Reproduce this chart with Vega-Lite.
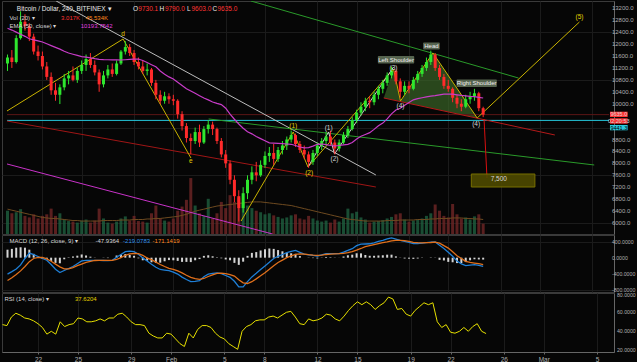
{
"$schema": "https://vega.github.io/schema/vega-lite/v6.json",
"background": "#060606",
"padding": 0,
"spacing": 1,
"bounds": "flush",
"config": {"view": {"stroke": "#3a3a3a", "fill": "#060606"}, "font": "Liberation Sans"},
"resolve": {"scale": {"x": "independent", "y": "independent", "fill": "independent", "stroke": "independent"}},
"datasets": {
"k": [
{"t":"2018-01-19T08:00","o":11350,"h":11650,"l":11100,"c":11550,"v":45,"vm":48,"e":12530,"m":-410,"s":-570,"hs":200,"r":47},
{"t":"2018-01-19T16:00","o":11550,"h":11800,"l":11200,"c":11400,"v":40,"vm":46,"e":12470,"m":-350,"s":-500,"hs":220,"r":46},
{"t":"2018-01-20T00:00","o":11400,"h":12300,"l":11350,"c":12200,"v":42,"vm":44,"e":12400,"m":-285,"s":-420,"hs":250,"r":55},
{"t":"2018-01-20T08:00","o":12200,"h":13100,"l":12150,"c":12750,"v":48,"vm":42,"e":12330,"m":-180,"s":-330,"hs":260,"r":59},
{"t":"2018-01-20T16:00","o":12750,"h":13000,"l":12450,"c":12600,"v":35,"vm":40,"e":12260,"m":-20,"s":-220,"hs":250,"r":57},
{"t":"2018-01-21T00:00","o":12600,"h":12700,"l":12100,"c":12250,"v":32,"vm":38,"e":12180,"m":115,"s":-100,"hs":200,"r":54},
{"t":"2018-01-21T08:00","o":12250,"h":12350,"l":11650,"c":11750,"v":38,"vm":36,"e":12140,"m":75,"s":-20,"hs":95,"r":53},
{"t":"2018-01-21T16:00","o":11750,"h":11950,"l":11450,"c":11600,"v":30,"vm":34,"e":12110,"m":30,"s":10,"hs":20,"r":51},
{"t":"2018-01-22T00:00","o":11600,"h":11750,"l":11150,"c":11250,"v":35,"vm":32,"e":12070,"m":-20,"s":5,"hs":-25,"r":48},
{"t":"2018-01-22T08:00","o":11250,"h":11400,"l":10800,"c":10900,"v":38,"vm":31,"e":12010,"m":-63,"s":-30,"hs":-33,"r":44},
{"t":"2018-01-22T16:00","o":10900,"h":11050,"l":10300,"c":10450,"v":49,"vm":30,"e":11950,"m":-170,"s":-90,"hs":-80,"r":37},
{"t":"2018-01-23T00:00","o":10450,"h":10700,"l":10100,"c":10300,"v":35,"vm":30,"e":11890,"m":-290,"s":-160,"hs":-130,"r":40},
{"t":"2018-01-23T08:00","o":10300,"h":10650,"l":9990,"c":10550,"v":40,"vm":29,"e":11830,"m":-370,"s":-230,"hs":-140,"r":37},
{"t":"2018-01-23T16:00","o":10550,"h":11000,"l":10450,"c":10850,"v":28,"vm":28,"e":11760,"m":-320,"s":-280,"hs":-40,"r":50},
{"t":"2018-01-24T00:00","o":10850,"h":11100,"l":10650,"c":10950,"v":25,"vm":27,"e":11700,"m":-270,"s":-280,"hs":10,"r":45},
{"t":"2018-01-24T08:00","o":10950,"h":11250,"l":10750,"c":10800,"v":24,"vm":26,"e":11660,"m":-220,"s":-250,"hs":30,"r":47},
{"t":"2018-01-24T16:00","o":10800,"h":11200,"l":10700,"c":11100,"v":22,"vm":26,"e":11620,"m":-150,"s":-200,"hs":50,"r":48},
{"t":"2018-01-25T00:00","o":11100,"h":11450,"l":11000,"c":11300,"v":26,"vm":25,"e":11580,"m":-80,"s":-160,"hs":80,"r":54},
{"t":"2018-01-25T08:00","o":11300,"h":11650,"l":11100,"c":11500,"v":28,"vm":25,"e":11560,"m":-65,"s":-120,"hs":55,"r":53},
{"t":"2018-01-25T16:00","o":11500,"h":11700,"l":11200,"c":11300,"v":22,"vm":25,"e":11540,"m":-65,"s":-90,"hs":25,"r":50},
{"t":"2018-01-26T00:00","o":11300,"h":11450,"l":10950,"c":11050,"v":26,"vm":25,"e":11510,"m":-65,"s":-70,"hs":5,"r":50},
{"t":"2018-01-26T08:00","o":11050,"h":11150,"l":10400,"c":10650,"v":49,"vm":25,"e":11490,"m":-65,"s":-65,"hs":0,"r":51},
{"t":"2018-01-26T16:00","o":10650,"h":11100,"l":10550,"c":10950,"v":30,"vm":26,"e":11480,"m":-70,"s":-65,"hs":-5,"r":53},
{"t":"2018-01-27T00:00","o":10950,"h":11300,"l":10850,"c":11150,"v":22,"vm":26,"e":11475,"m":-75,"s":-65,"hs":-10,"r":51},
{"t":"2018-01-27T08:00","o":11150,"h":11350,"l":10900,"c":11000,"v":20,"vm":26,"e":11470,"m":-65,"s":-65,"hs":0,"r":54},
{"t":"2018-01-27T16:00","o":11000,"h":11450,"l":10950,"c":11350,"v":24,"vm":26,"e":11468,"m":10,"s":-45,"hs":55,"r":54},
{"t":"2018-01-28T00:00","o":11350,"h":11800,"l":11300,"c":11750,"v":30,"vm":27,"e":11467,"m":80,"s":0,"hs":80,"r":58},
{"t":"2018-01-28T08:00","o":11750,"h":12100,"l":11650,"c":11900,"v":34,"vm":27,"e":11475,"m":150,"s":60,"hs":90,"r":59},
{"t":"2018-01-28T16:00","o":11900,"h":12000,"l":11600,"c":11700,"v":26,"vm":27,"e":11485,"m":165,"s":95,"hs":70,"r":55},
{"t":"2018-01-29T00:00","o":11700,"h":11800,"l":11300,"c":11400,"v":35,"vm":28,"e":11495,"m":152,"s":105,"hs":47,"r":50},
{"t":"2018-01-29T08:00","o":11400,"h":11550,"l":11150,"c":11250,"v":25,"vm":28,"e":11500,"m":85,"s":100,"hs":-15,"r":47},
{"t":"2018-01-29T16:00","o":11250,"h":11450,"l":11000,"c":11100,"v":24,"vm":28,"e":11450,"m":-5,"s":60,"hs":-65,"r":47},
{"t":"2018-01-30T00:00","o":11100,"h":11350,"l":10950,"c":11150,"v":22,"vm":29,"e":11380,"m":-85,"s":-10,"hs":-75,"r":46},
{"t":"2018-01-30T08:00","o":11150,"h":11200,"l":10600,"c":10700,"v":40,"vm":29,"e":11310,"m":-165,"s":-50,"hs":-115,"r":38},
{"t":"2018-01-30T16:00","o":10700,"h":10800,"l":10150,"c":10300,"v":55,"vm":30,"e":11240,"m":-240,"s":-110,"hs":-130,"r":35},
{"t":"2018-01-31T00:00","o":10300,"h":10450,"l":9990,"c":10100,"v":30,"vm":30,"e":11100,"m":-295,"s":-170,"hs":-125,"r":33},
{"t":"2018-01-31T08:00","o":10100,"h":10400,"l":10000,"c":10250,"v":26,"vm":31,"e":10990,"m":-310,"s":-220,"hs":-90,"r":33},
{"t":"2018-01-31T16:00","o":10250,"h":10350,"l":10000,"c":10150,"v":24,"vm":32,"e":10900,"m":-325,"s":-265,"hs":-60,"r":38},
{"t":"2018-02-01T00:00","o":10150,"h":10300,"l":9950,"c":10100,"v":30,"vm":33,"e":10830,"m":-360,"s":-295,"hs":-65,"r":37},
{"t":"2018-02-01T08:00","o":10100,"h":10150,"l":9500,"c":9650,"v":45,"vm":34,"e":10720,"m":-410,"s":-330,"hs":-80,"r":32},
{"t":"2018-02-01T16:00","o":9650,"h":9750,"l":9100,"c":9250,"v":53,"vm":36,"e":10610,"m":-485,"s":-380,"hs":-105,"r":27},
{"t":"2018-02-02T00:00","o":9250,"h":9350,"l":8700,"c":8850,"v":66,"vm":38,"e":10500,"m":-545,"s":-440,"hs":-105,"r":24},
{"t":"2018-02-02T08:00","o":8850,"h":9000,"l":8300,"c":8750,"v":108,"vm":41,"e":10430,"m":-600,"s":-490,"hs":-110,"r":38},
{"t":"2018-02-02T16:00","o":8750,"h":9200,"l":8650,"c":9050,"v":55,"vm":44,"e":10350,"m":-590,"s":-525,"hs":-65,"r":33},
{"t":"2018-02-03T00:00","o":9050,"h":9300,"l":8550,"c":8700,"v":40,"vm":46,"e":10270,"m":-575,"s":-540,"hs":-35,"r":42},
{"t":"2018-02-03T08:00","o":8700,"h":9250,"l":8650,"c":9150,"v":35,"vm":48,"e":10190,"m":-475,"s":-520,"hs":45,"r":46},
{"t":"2018-02-03T16:00","o":9150,"h":9450,"l":9000,"c":9300,"v":68,"vm":50,"e":10130,"m":-410,"s":-470,"hs":60,"r":46},
{"t":"2018-02-04T00:00","o":9300,"h":9400,"l":8950,"c":9150,"v":30,"vm":52,"e":10060,"m":-395,"s":-430,"hs":35,"r":44},
{"t":"2018-02-04T08:00","o":9150,"h":9200,"l":8650,"c":8750,"v":40,"vm":54,"e":10010,"m":-380,"s":-390,"hs":10,"r":38},
{"t":"2018-02-04T16:00","o":8750,"h":8850,"l":8200,"c":8300,"v":62,"vm":55,"e":9970,"m":-400,"s":-385,"hs":-15,"r":34},
{"t":"2018-02-05T00:00","o":8300,"h":8450,"l":7850,"c":8000,"v":50,"vm":56,"e":9850,"m":-445,"s":-400,"hs":-45,"r":32},
{"t":"2018-02-05T08:00","o":8000,"h":8100,"l":7300,"c":7450,"v":75,"vm":57,"e":9650,"m":-490,"s":-425,"hs":-65,"r":27},
{"t":"2018-02-05T16:00","o":7450,"h":7600,"l":6700,"c":6900,"v":62,"vm":58,"e":9480,"m":-590,"s":-460,"hs":-130,"r":24},
{"t":"2018-02-06T00:00","o":6900,"h":7100,"l":6050,"c":6500,"v":70,"vm":59,"e":9320,"m":-730,"s":-550,"hs":-180,"r":21},
{"t":"2018-02-06T08:00","o":6500,"h":7200,"l":6350,"c":7000,"v":60,"vm":60,"e":9180,"m":-730,"s":-630,"hs":-100,"r":40},
{"t":"2018-02-06T16:00","o":7000,"h":7600,"l":6800,"c":7450,"v":55,"vm":61,"e":9060,"m":-600,"s":-645,"hs":45,"r":45},
{"t":"2018-02-07T00:00","o":7450,"h":7900,"l":7300,"c":7700,"v":50,"vm":62,"e":8990,"m":-480,"s":-600,"hs":120,"r":47},
{"t":"2018-02-07T08:00","o":7700,"h":8050,"l":7400,"c":7600,"v":45,"vm":62,"e":8900,"m":-390,"s":-530,"hs":140,"r":51},
{"t":"2018-02-07T16:00","o":7600,"h":8100,"l":7550,"c":7950,"v":42,"vm":62,"e":8830,"m":-295,"s":-450,"hs":180,"r":52},
{"t":"2018-02-08T00:00","o":7950,"h":8400,"l":7850,"c":8250,"v":38,"vm":61,"e":8760,"m":-205,"s":-375,"hs":210,"r":52},
{"t":"2018-02-08T08:00","o":8250,"h":8550,"l":8050,"c":8350,"v":40,"vm":60,"e":8690,"m":-115,"s":-290,"hs":230,"r":55},
{"t":"2018-02-08T16:00","o":8350,"h":8650,"l":7950,"c":8150,"v":36,"vm":59,"e":8680,"m":-20,"s":-200,"hs":220,"r":56},
{"t":"2018-02-09T00:00","o":8150,"h":8550,"l":8050,"c":8450,"v":33,"vm":58,"e":8670,"m":35,"s":-120,"hs":190,"r":54},
{"t":"2018-02-09T08:00","o":8450,"h":8750,"l":8300,"c":8600,"v":30,"vm":57,"e":8660,"m":80,"s":-60,"hs":160,"r":57},
{"t":"2018-02-09T16:00","o":8600,"h":8900,"l":8450,"c":8800,"v":32,"vm":56,"e":8650,"m":125,"s":0,"hs":125,"r":60},
{"t":"2018-02-10T00:00","o":8800,"h":9100,"l":8700,"c":8950,"v":36,"vm":55,"e":8640,"m":155,"s":45,"hs":110,"r":61},
{"t":"2018-02-10T08:00","o":8950,"h":9000,"l":8550,"c":8650,"v":38,"vm":53,"e":8600,"m":180,"s":85,"hs":95,"r":55},
{"t":"2018-02-10T16:00","o":8650,"h":8750,"l":8350,"c":8450,"v":30,"vm":51,"e":8550,"m":135,"s":95,"hs":40,"r":48},
{"t":"2018-02-11T00:00","o":8450,"h":8600,"l":8150,"c":8300,"v":28,"vm":49,"e":8520,"m":90,"s":90,"hs":0,"r":47},
{"t":"2018-02-11T08:00","o":8300,"h":8400,"l":7850,"c":8050,"v":35,"vm":47,"e":8530,"m":70,"s":75,"hs":-5,"r":53},
{"t":"2018-02-11T16:00","o":8050,"h":8450,"l":7950,"c":8350,"v":30,"vm":45,"e":8580,"m":55,"s":65,"hs":-10,"r":51},
{"t":"2018-02-12T00:00","o":8350,"h":8700,"l":8250,"c":8600,"v":26,"vm":43,"e":8640,"m":42,"s":60,"hs":-18,"r":52},
{"t":"2018-02-12T08:00","o":8600,"h":8850,"l":8450,"c":8750,"v":24,"vm":41,"e":8650,"m":70,"s":65,"hs":5,"r":54},
{"t":"2018-02-12T16:00","o":8750,"h":9050,"l":8600,"c":8900,"v":26,"vm":39,"e":8630,"m":98,"s":80,"hs":18,"r":58},
{"t":"2018-02-13T00:00","o":8900,"h":9100,"l":8600,"c":8700,"v":22,"vm":37,"e":8600,"m":100,"s":88,"hs":12,"r":57},
{"t":"2018-02-13T08:00","o":8700,"h":8800,"l":8300,"c":8500,"v":28,"vm":35,"e":8585,"m":100,"s":95,"hs":5,"r":53},
{"t":"2018-02-13T16:00","o":8500,"h":8800,"l":8400,"c":8700,"v":24,"vm":33,"e":8600,"m":102,"s":100,"hs":2,"r":51},
{"t":"2018-02-14T00:00","o":8700,"h":9050,"l":8650,"c":8950,"v":30,"vm":31,"e":8620,"m":140,"s":110,"hs":30,"r":56},
{"t":"2018-02-14T08:00","o":8950,"h":9250,"l":8850,"c":9150,"v":49,"vm":29,"e":8640,"m":185,"s":125,"hs":60,"r":62},
{"t":"2018-02-14T16:00","o":9150,"h":9550,"l":9100,"c":9450,"v":40,"vm":28,"e":8700,"m":225,"s":150,"hs":75,"r":67},
{"t":"2018-02-15T00:00","o":9450,"h":9800,"l":9350,"c":9700,"v":43,"vm":27,"e":8820,"m":300,"s":190,"hs":110,"r":71},
{"t":"2018-02-15T08:00","o":9700,"h":10050,"l":9600,"c":9900,"v":32,"vm":26,"e":8910,"m":338,"s":230,"hs":108,"r":68},
{"t":"2018-02-15T16:00","o":9900,"h":10200,"l":9750,"c":10100,"v":28,"vm":25,"e":8970,"m":342,"s":275,"hs":67,"r":71},
{"t":"2018-02-16T00:00","o":10100,"h":10250,"l":9850,"c":10050,"v":22,"vm":25,"e":9030,"m":348,"s":300,"hs":48,"r":68},
{"t":"2018-02-16T08:00","o":10050,"h":10400,"l":9950,"c":10300,"v":24,"vm":25,"e":9140,"m":372,"s":325,"hs":47,"r":63},
{"t":"2018-02-16T16:00","o":10300,"h":10600,"l":10150,"c":10500,"v":25,"vm":25,"e":9260,"m":405,"s":350,"hs":55,"r":67},
{"t":"2018-02-17T00:00","o":10500,"h":10800,"l":10350,"c":10700,"v":27,"vm":25,"e":9350,"m":435,"s":375,"hs":60,"r":70},
{"t":"2018-02-17T08:00","o":10700,"h":11050,"l":10600,"c":10950,"v":30,"vm":26,"e":9490,"m":470,"s":395,"hs":75,"r":76},
{"t":"2018-02-17T16:00","o":10950,"h":11250,"l":10850,"c":11100,"v":33,"vm":26,"e":9660,"m":495,"s":420,"hs":75,"r":74},
{"t":"2018-02-18T00:00","o":11100,"h":11150,"l":10650,"c":10750,"v":38,"vm":26,"e":9790,"m":465,"s":432,"hs":33,"r":63},
{"t":"2018-02-18T08:00","o":10750,"h":10850,"l":10200,"c":10400,"v":40,"vm":27,"e":9850,"m":430,"s":435,"hs":-5,"r":64},
{"t":"2018-02-18T16:00","o":10400,"h":10750,"l":10300,"c":10600,"v":28,"vm":27,"e":9950,"m":405,"s":425,"hs":-20,"r":58},
{"t":"2018-02-19T00:00","o":10600,"h":10750,"l":10350,"c":10500,"v":24,"vm":27,"e":10040,"m":380,"s":405,"hs":-25,"r":56},
{"t":"2018-02-19T08:00","o":10500,"h":10900,"l":10450,"c":10800,"v":26,"vm":27,"e":10130,"m":355,"s":385,"hs":-30,"r":62},
{"t":"2018-02-19T16:00","o":10800,"h":11100,"l":10700,"c":11000,"v":28,"vm":28,"e":10170,"m":355,"s":375,"hs":-20,"r":66},
{"t":"2018-02-20T00:00","o":11000,"h":11300,"l":10900,"c":11200,"v":30,"vm":28,"e":10200,"m":365,"s":372,"hs":-7,"r":70},
{"t":"2018-02-20T08:00","o":11200,"h":11550,"l":11100,"c":11400,"v":35,"vm":28,"e":10230,"m":375,"s":375,"hs":0,"r":68},
{"t":"2018-02-20T16:00","o":11400,"h":11780,"l":11300,"c":11650,"v":40,"vm":29,"e":10255,"m":388,"s":380,"hs":8,"r":70},
{"t":"2018-02-21T00:00","o":11650,"h":11700,"l":11100,"c":11200,"v":57,"vm":29,"e":10270,"m":395,"s":390,"hs":5,"r":50},
{"t":"2018-02-21T08:00","o":11200,"h":11300,"l":10800,"c":10900,"v":45,"vm":30,"e":10300,"m":310,"s":365,"hs":-55,"r":44},
{"t":"2018-02-21T16:00","o":10900,"h":11000,"l":10500,"c":10600,"v":35,"vm":30,"e":10320,"m":230,"s":300,"hs":-70,"r":47},
{"t":"2018-02-22T00:00","o":10600,"h":10800,"l":10400,"c":10500,"v":32,"vm":30,"e":10325,"m":135,"s":240,"hs":-105,"r":39},
{"t":"2018-02-22T08:00","o":10500,"h":10550,"l":10050,"c":10200,"v":58,"vm":31,"e":10320,"m":35,"s":150,"hs":-115,"r":38},
{"t":"2018-02-22T16:00","o":10200,"h":10300,"l":9850,"c":10000,"v":38,"vm":31,"e":10300,"m":-85,"s":50,"hs":-135,"r":40},
{"t":"2018-02-23T00:00","o":10000,"h":10150,"l":9750,"c":9900,"v":30,"vm":31,"e":10280,"m":-155,"s":-20,"hs":-135,"r":44},
{"t":"2018-02-23T08:00","o":9900,"h":10300,"l":9850,"c":10150,"v":32,"vm":30,"e":10265,"m":-200,"s":-90,"hs":-110,"r":40},
{"t":"2018-02-23T16:00","o":10150,"h":10400,"l":10000,"c":10250,"v":28,"vm":30,"e":10250,"m":-185,"s":-120,"hs":-65,"r":45},
{"t":"2018-02-24T00:00","o":10250,"h":10500,"l":10100,"c":10350,"v":34,"vm":29,"e":10240,"m":-175,"s":-135,"hs":-40,"r":48},
{"t":"2018-02-24T08:00","o":10350,"h":10400,"l":9750,"c":9850,"v":38,"vm":29,"e":10215,"m":-195,"s":-150,"hs":-45,"r":40},
{"t":"2018-02-24T16:00","o":9850,"h":9900,"l":9550,"c":9635,"v":20,"vm":28,"e":10193,"m":-219,"s":-171,"hs":-48,"r":37.6}
],
"ln": [
{"id":"L","t":"2018-01-19T07:05","p":9635},{"id":"L","t":"2018-03-06T06:40","p":9635},
{"id":"K","t":"2018-01-19T07:05","p":9441.3},{"id":"K","t":"2018-03-06T06:40","p":9441.3},
{"id":"A","t":"2018-01-23T01:15","p":13445},{"id":"A","t":"2018-02-16T11:15","p":7611},
{"id":"B","t":"2018-01-19T07:05","p":9421},{"id":"B","t":"2018-02-16T11:15","p":7208},
{"id":"C","t":"2018-02-17T01:40","p":10193},{"id":"C","t":"2018-03-02T03:25","p":8952},
{"id":"D","t":"2018-02-06T22:15","p":13445},{"id":"D","t":"2018-02-27T08:40","p":10863},
{"id":"E","t":"2018-02-03T16:45","p":9489},{"id":"E","t":"2018-03-05T03:35","p":7946},
{"id":"F","t":"2018-01-19T07:05","p":7980},{"id":"F","t":"2018-02-08T13:55","p":5632},
{"id":"G","t":"2018-01-19T07:05","p":9757},{"id":"G","t":"2018-01-28T03:50","p":12171},{"id":"G","t":"2018-02-02T08:15","p":8181},
{"id":"H","t":"2018-02-06T04:15","p":6068},{"id":"H","t":"2018-02-10T03:50","p":9053},{"id":"H","t":"2018-02-11T06:55","p":7879},{"id":"H","t":"2018-02-17T19:40","p":11165},{"id":"H","t":"2018-02-18T08:25","p":10092},{"id":"H","t":"2018-02-20T19:55","p":11701},{"id":"H","t":"2018-02-24T05:00","p":9522},{"id":"H","t":"2018-03-04T00:30","p":12741},
{"id":"I","t":"2018-02-11T06:55","p":7879},{"id":"I","t":"2018-02-12T20:40","p":9053},{"id":"I","t":"2018-02-13T07:30","p":8315},{"id":"I","t":"2018-02-17T19:40","p":11232},
{"id":"J","t":"2018-02-24T17:35","p":9488},{"id":"J","t":"2018-02-24T23:00","p":7510}
],
"hsa": [
{"t":"2018-02-17T01:40","u":10193,"n":10193},
{"t":"2018-02-17T19:40","u":11165,"n":10122},
{"t":"2018-02-18T08:25","u":10072,"n":10072},
{"t":"2018-02-20T19:55","u":11701,"n":9837},
{"t":"2018-02-24T05:00","u":9522,"n":9522}
],
"lb": [
{"t":"2018-01-28T03:50","p":12338,"s":"d","k":"y"},
{"t":"2018-02-02T08:15","p":8080,"s":"e","k":"y"},
{"t":"2018-02-10T03:50","p":9254,"s":"(1)","k":"y"},
{"t":"2018-02-11T09:00","p":7678,"s":"(2)","k":"y"},
{"t":"2018-02-12T20:40","p":9187,"s":"(1)","k":"w"},
{"t":"2018-02-13T07:30","p":8147,"s":"(2)","k":"w"},
{"t":"2018-02-17T19:40","p":11190,"s":"(3)","k":"w"},
{"t":"2018-02-18T08:25","p":9924,"s":"(4)","k":"w"},
{"t":"2018-02-24T03:10","p":9321,"s":"(4)","k":"w"},
{"t":"2018-03-04T00:30","p":12909,"s":"(5)","k":"y"},
{"t":"2018-02-25T20:40","p":7477,"s":"7,500","k":"w"}
],
"bl": [
{"t1":"2018-02-16T14:55","t2":"2018-02-19T09:35","p1":11600,"p2":11350,"tc":"2018-02-18T00:15","pc":11475,"s":"Left Shoulder"},
{"t1":"2018-02-20T01:55","t2":"2018-02-21T08:25","p1":12054,"p2":11819,"tc":"2018-02-20T17:05","pc":11936,"s":"Head"},
{"t1":"2018-02-22T15:10","t2":"2018-02-25T17:05","p1":10813,"p2":10561,"tc":"2018-02-24T04:05","pc":10687,"s":"Right Shoulder"}
],
"tb": [{"t1":"2018-02-23T18:15","t2":"2018-02-28T14:50","p1":7644,"p2":7208}],
"pt": [
{"t1":"2018-03-06T08:25","t2":"2018-03-07T16:50","p1":9733,"p2":9556,"tc":"2018-03-07T00:40","pc":9646,"s":"9635.0","k":"r","tk":"w"},
{"t1":"2018-03-06T08:25","t2":"2018-03-07T16:50","p1":9512,"p2":9331,"tc":"2018-03-07T00:40","pc":9421,"s":"02:20:53","k":"r","tk":"w"},
{"t1":"2018-03-06T08:25","t2":"2018-03-07T16:50","p1":9287,"p2":9110,"tc":"2018-03-07T00:40","pc":9197,"s":"9441.3","k":"c","tk":"k"}
],
"pax": [
{"t":"2018-03-06T12:00","p":6000,"s":"6000.0"},{"t":"2018-03-06T12:00","p":6400,"s":"6400.0"},{"t":"2018-03-06T12:00","p":6800,"s":"6800.0"},{"t":"2018-03-06T12:00","p":7200,"s":"7200.0"},{"t":"2018-03-06T12:00","p":7600,"s":"7600.0"},{"t":"2018-03-06T12:00","p":8000,"s":"8000.0"},{"t":"2018-03-06T12:00","p":8400,"s":"8400.0"},{"t":"2018-03-06T12:00","p":8800,"s":"8800.0"},
{"t":"2018-03-06T12:00","p":10000,"s":"10000.0"},{"t":"2018-03-06T12:00","p":10400,"s":"10400.0"},{"t":"2018-03-06T12:00","p":10800,"s":"10800.0"},{"t":"2018-03-06T12:00","p":11200,"s":"11200.0"},{"t":"2018-03-06T12:00","p":11600,"s":"11600.0"},{"t":"2018-03-06T12:00","p":12000,"s":"12000.0"},{"t":"2018-03-06T12:00","p":12400,"s":"12400.0"},{"t":"2018-03-06T12:00","p":12800,"s":"12800.0"},{"t":"2018-03-06T12:00","p":13200,"s":"13200.0"}
],
"max": [{"t":"2018-03-06T12:00","p":400,"s":"400.0000"},{"t":"2018-03-06T12:00","p":0,"s":"0.0000"},{"t":"2018-03-06T12:00","p":-400,"s":"-400.0000"},{"t":"2018-03-06T12:00","p":-800,"s":"-800.0000"}],
"rax": [{"t":"2018-03-06T12:00","p":80,"s":"80.0000"},{"t":"2018-03-06T12:00","p":60,"s":"60.0000"},{"t":"2018-03-06T12:00","p":40,"s":"40.0000"},{"t":"2018-03-06T12:00","p":20,"s":"20.0000"}],
"hd": [
{"t":"2018-01-20T01:07","p":13177,"s":"Bitcoin / Dollar, 240, BITFINEX ▾","k":"W"},
{"t":"2018-01-28T21:53","p":13177,"s":"O","k":"W"},
{"t":"2018-01-29T07:48","p":13177,"s":"9730.1","k":"R"},
{"t":"2018-01-30T22:35","p":13177,"s":"H","k":"W"},
{"t":"2018-01-31T08:30","p":13177,"s":"9790.0","k":"R"},
{"t":"2018-02-02T01:04","p":13177,"s":"L","k":"W"},
{"t":"2018-02-02T09:10","p":13177,"s":"9603.0","k":"R"},
{"t":"2018-02-03T23:57","p":13177,"s":"C","k":"W"},
{"t":"2018-02-04T08:57","p":13177,"s":"9635.0","k":"R"},
{"t":"2018-01-19T11:30","p":12875,"s":"Vol (20) ▾","k":"w"},
{"t":"2018-01-23T10:16","p":12875,"s":"3.017K","k":"r"},
{"t":"2018-01-25T07:21","p":12875,"s":"45.534K","k":"o"},
{"t":"2018-01-19T11:30","p":12607,"s":"EMA (50, close) ▾","k":"w"},
{"t":"2018-01-24T22:20","p":12607,"s":"10193.7542","k":"m"}
],
"hm": [
{"t":"2018-01-19T11:30","p":417,"s":"MACD (12, 26, close, 9) ▾","k":"w"},
{"t":"2018-01-26T01:22","p":417,"s":"-47.9364","k":"w"},
{"t":"2018-01-28T03:52","p":417,"s":"-219.0783","k":"b"},
{"t":"2018-01-30T09:57","p":417,"s":"-171.1419","k":"o"}
],
"hr": [
{"t":"2018-01-19T11:30","p":74.3,"s":"RSI (14, close) ▾","k":"w"},
{"t":"2018-01-24T18:40","p":74.3,"s":"37.6204","k":"y"}
]
},
"vconcat": [
{
"width": 612, "height": 233,
"encoding": {"x": {"field": "t", "type": "temporal", "scale": {"domain": ["2018-01-19T07:05", "2018-03-06T06:40"]},
  "axis": {"values": [{"year":2018,"month":1,"date":22},{"year":2018,"month":1,"date":25},{"year":2018,"month":1,"date":29},{"year":2018,"month":2,"date":1},{"year":2018,"month":2,"date":5},{"year":2018,"month":2,"date":8},{"year":2018,"month":2,"date":12},{"year":2018,"month":2,"date":15},{"year":2018,"month":2,"date":19},{"year":2018,"month":2,"date":22},{"year":2018,"month":2,"date":26},{"year":2018,"month":3,"date":1},{"year":2018,"month":3,"date":5}],
  "labels": false, "ticks": false, "domain": false, "grid": true, "gridColor": "#1b1b1b", "title": null}}},
"layer": [
 {"data": {"name": "k"},
  "layer": [
   {"mark": {"type": "bar", "size": 3, "opacity": 0.85},
    "encoding": {"y": {"field": "v", "type": "quantitative", "scale": {"domain": [0, 440]}, "axis": null},
     "color": {"condition": {"test": "datum.c >= datum.o", "value": "#1d5a3c"}, "value": "#6a2424"}}},
   {"mark": {"type": "line", "color": "#6e4a20", "strokeWidth": 1},
    "encoding": {"y": {"field": "vm", "type": "quantitative", "axis": null}}}
  ]},
 {"layer": [
   {"data": {"name": "hsa"}, "mark": {"type": "area", "color": "#3c6a28", "opacity": 0.65},
    "encoding": {"y": {"field": "u", "type": "quantitative", "scale": {"domain": [5632, 13445], "nice": false, "zero": false},
      "axis": {"orient": "right", "values": [6000,6400,6800,7200,7600,8000,8400,8800,9200,9600,10000,10400,10800,11200,11600,12000,12400,12800,13200], "labels": false, "grid": true, "gridColor": "#1b1b1b", "ticks": false, "domain": true, "domainColor": "#666", "title": null}},
     "y2": {"field": "n"}}},
   {"data": {"name": "ln"}, "mark": {"type": "line", "strokeWidth": 1, "clip": true},
    "encoding": {"y": {"field": "p", "type": "quantitative"},
     "stroke": {"field": "id", "type": "nominal", "legend": null,
      "scale": {"domain": ["A","B","C","D","E","F","G","H","I","J","K","L"], "range": ["#bdbdbd","#a01616","#b51a1a","#2a9a2a","#2a9a2a","#c832c8","#c9b300","#c9b300","#d0d0d0","#d81010","#26c6da","#5a1616"]}}}},
   {"data": {"name": "k"}, "mark": {"type": "rule", "strokeWidth": 1},
    "encoding": {"y": {"field": "l", "type": "quantitative"}, "y2": {"field": "h"},
     "color": {"condition": {"test": "datum.c >= datum.o", "value": "#2ee62e"}, "value": "#ff2a2a"}}},
   {"data": {"name": "k"}, "mark": {"type": "bar", "size": 3},
    "encoding": {"y": {"field": "o", "type": "quantitative"}, "y2": {"field": "c"},
     "color": {"condition": {"test": "datum.c >= datum.o", "value": "#2ee62e"}, "value": "#ff2a2a"}}},
   {"data": {"name": "k"}, "mark": {"type": "line", "color": "#c83cc8", "strokeWidth": 1.2},
    "encoding": {"y": {"field": "e", "type": "quantitative"}}},
   {"data": {"name": "tb"}, "mark": {"type": "rect", "fill": "#4f4a00", "stroke": "#857c00", "opacity": 0.9},
    "encoding": {"x": {"field": "t1", "type": "temporal"}, "x2": {"field": "t2"}, "y": {"field": "p1", "type": "quantitative"}, "y2": {"field": "p2"}}},
   {"data": {"name": "bl"}, "mark": {"type": "rect", "fill": "#56644f", "cornerRadius": 1},
    "encoding": {"x": {"field": "t1", "type": "temporal"}, "x2": {"field": "t2"}, "y": {"field": "p1", "type": "quantitative"}, "y2": {"field": "p2"}}},
   {"data": {"name": "bl"}, "mark": {"type": "text", "fontSize": 6, "fill": "#f0f0f0", "baseline": "middle"},
    "encoding": {"x": {"field": "tc", "type": "temporal"}, "y": {"field": "pc", "type": "quantitative"}, "text": {"field": "s"}}},
   {"data": {"name": "lb"}, "mark": {"type": "text", "fontSize": 6.5, "baseline": "middle"},
    "encoding": {"y": {"field": "p", "type": "quantitative"}, "text": {"field": "s"},
     "fill": {"field": "k", "type": "nominal", "legend": null, "scale": {"domain": ["w","W","y","r","R","o","m","b","k","c"], "range": ["#d6d6d6","#e8e8e8","#e3d000","#ff3333","#ff3333","#ff8a1e","#e040e0","#2f8fe8","#000000","#2ac8dc"]}}}},
   {"data": {"name": "pax"}, "mark": {"type": "text", "fontSize": 6, "align": "left", "baseline": "middle", "fill": "#b0b0b0"},
    "encoding": {"y": {"field": "p", "type": "quantitative"}, "text": {"field": "s"}}},
   {"data": {"name": "pt"}, "mark": {"type": "rect"},
    "encoding": {"x": {"field": "t1", "type": "temporal"}, "x2": {"field": "t2"}, "y": {"field": "p1", "type": "quantitative"}, "y2": {"field": "p2"},
     "fill": {"field": "k", "type": "nominal", "legend": null, "scale": {"domain": ["w","W","y","r","R","o","m","b","k","c"], "range": ["#d6d6d6","#e8e8e8","#e3d000","#ff3333","#ff3333","#ff8a1e","#e040e0","#2f8fe8","#000000","#2ac8dc"]}}}},
   {"data": {"name": "pt"}, "mark": {"type": "text", "fontSize": 5.5, "baseline": "middle"},
    "encoding": {"x": {"field": "tc", "type": "temporal"}, "y": {"field": "pc", "type": "quantitative"}, "text": {"field": "s"},
     "fill": {"field": "tk", "type": "nominal", "legend": null, "scale": {"domain": ["w","W","y","r","R","o","m","b","k","c"], "range": ["#d6d6d6","#e8e8e8","#e3d000","#ff3333","#ff3333","#ff8a1e","#e040e0","#2f8fe8","#000000","#2ac8dc"]}}}},
   {"data": {"name": "hd"}, "transform": [{"filter": "datum.k == 'W' || datum.k == 'R'"}],
    "mark": {"type": "text", "fontSize": 6.5, "align": "left", "baseline": "middle"},
    "encoding": {"y": {"field": "p", "type": "quantitative"}, "text": {"field": "s"},
     "fill": {"field": "k", "type": "nominal", "legend": null, "scale": {"domain": ["w","W","y","r","R","o","m","b","k","c"], "range": ["#d6d6d6","#e8e8e8","#e3d000","#ff3333","#ff3333","#ff8a1e","#e040e0","#2f8fe8","#000000","#2ac8dc"]}}}},
   {"data": {"name": "hd"}, "transform": [{"filter": "datum.k != 'W' && datum.k != 'R'"}],
    "mark": {"type": "text", "fontSize": 6, "align": "left", "baseline": "middle"},
    "encoding": {"y": {"field": "p", "type": "quantitative"}, "text": {"field": "s"},
     "fill": {"field": "k", "type": "nominal", "legend": null, "scale": {"domain": ["w","W","y","r","R","o","m","b","k","c"], "range": ["#d6d6d6","#e8e8e8","#e3d000","#ff3333","#ff3333","#ff8a1e","#e040e0","#2f8fe8","#000000","#2ac8dc"]}}}}
 ]}
],
"resolve": {"scale": {"y": "independent"}}
},
{
"width": 612, "height": 57,
"data": {"name": "k"},
"encoding": {"x": {"field": "t", "type": "temporal", "scale": {"domain": ["2018-01-19T07:05", "2018-03-06T06:40"]},
  "axis": {"values": [{"year":2018,"month":1,"date":22},{"year":2018,"month":1,"date":25},{"year":2018,"month":1,"date":29},{"year":2018,"month":2,"date":1},{"year":2018,"month":2,"date":5},{"year":2018,"month":2,"date":8},{"year":2018,"month":2,"date":12},{"year":2018,"month":2,"date":15},{"year":2018,"month":2,"date":19},{"year":2018,"month":2,"date":22},{"year":2018,"month":2,"date":26},{"year":2018,"month":3,"date":1},{"year":2018,"month":3,"date":5}],
  "labels": false, "ticks": false, "domain": false, "grid": true, "gridColor": "#1b1b1b", "title": null}}},
"layer": [
 {"mark": {"type": "bar", "size": 2, "color": "#d4d4d4"},
  "encoding": {"y": {"field": "hs", "type": "quantitative", "scale": {"domain": [-858, 567], "nice": false},
   "axis": {"orient": "right", "values": [400, 0, -400, -800], "labels": false, "grid": true, "gridColor": "#1b1b1b", "ticks": false, "domain": true, "domainColor": "#666", "title": null}}}},
 {"mark": {"type": "line", "color": "#1f7fd6", "strokeWidth": 1.3}, "encoding": {"y": {"field": "m", "type": "quantitative"}}},
 {"mark": {"type": "line", "color": "#e0701c", "strokeWidth": 1.3}, "encoding": {"y": {"field": "s", "type": "quantitative"}}},
 {"data": {"name": "max"}, "mark": {"type": "text", "fontSize": 5.2, "align": "left", "baseline": "middle", "fill": "#b0b0b0"},
  "encoding": {"y": {"field": "p", "type": "quantitative"}, "text": {"field": "s"}}},
 {"data": {"name": "hm"}, "mark": {"type": "text", "fontSize": 6, "align": "left", "baseline": "middle"},
  "encoding": {"y": {"field": "p", "type": "quantitative"}, "text": {"field": "s"},
   "fill": {"field": "k", "type": "nominal", "legend": null, "scale": {"domain": ["w","y","o","b"], "range": ["#d6d6d6","#e3d000","#ff8a1e","#2f8fe8"]}}}}
]
},
{
"width": 612, "height": 59,
"data": {"name": "k"},
"encoding": {"x": {"field": "t", "type": "temporal", "scale": {"domain": ["2018-01-19T07:05", "2018-03-06T06:40"]},
  "axis": {"values": [{"year":2018,"month":1,"date":22},{"year":2018,"month":1,"date":25},{"year":2018,"month":1,"date":29},{"year":2018,"month":2,"date":1},{"year":2018,"month":2,"date":5},{"year":2018,"month":2,"date":8},{"year":2018,"month":2,"date":12},{"year":2018,"month":2,"date":15},{"year":2018,"month":2,"date":19},{"year":2018,"month":2,"date":22},{"year":2018,"month":2,"date":26},{"year":2018,"month":3,"date":1},{"year":2018,"month":3,"date":5}],
  "labelExpr": "date(datum.value) == 1 ? timeFormat(datum.value, '%b') : timeFormat(datum.value, '%-d')",
  "grid": true, "gridColor": "#1b1b1b", "labelFontSize": 6.5, "labelColor": "#b0b0b0", "labelPadding": 2, "tickSize": 2, "tickColor": "#666", "domainColor": "#666", "labelFlush": false, "title": null}}},
"layer": [
 {"data": {"values": [{}]}, "mark": {"type": "rect", "color": "#1a0c2c"},
  "encoding": {"x": {"datum": {"year":2018,"month":1,"date":19,"hours":7,"minutes":5}, "type": "temporal"}, "x2": {"datum": {"year":2018,"month":3,"date":6,"hours":6,"minutes":40}},
   "y": {"datum": 70, "type": "quantitative", "scale": {"domain": [18.2, 80.3], "nice": false, "zero": false},
    "axis": {"orient": "right", "values": [80, 60, 40, 20], "labels": false, "grid": false, "ticks": false, "domain": true, "domainColor": "#666", "title": null}},
   "y2": {"datum": 30}}},
 {"data": {"values": [{}]}, "mark": {"type": "rule", "color": "#c62828", "strokeDash": [4, 3], "strokeWidth": 1.3},
  "encoding": {"x": {"datum": {"year":2018,"month":1,"date":19,"hours":7,"minutes":5}, "type": "temporal"}, "x2": {"datum": {"year":2018,"month":3,"date":6,"hours":6,"minutes":40}}, "y": {"datum": 70, "type": "quantitative"}}},
 {"data": {"values": [{}]}, "mark": {"type": "rule", "color": "#1f9a1f", "strokeDash": [4, 3], "strokeWidth": 1.3},
  "encoding": {"x": {"datum": {"year":2018,"month":1,"date":19,"hours":7,"minutes":5}, "type": "temporal"}, "x2": {"datum": {"year":2018,"month":3,"date":6,"hours":6,"minutes":40}}, "y": {"datum": 30, "type": "quantitative"}}},
 {"mark": {"type": "line", "color": "#e6e000", "strokeWidth": 1}, "encoding": {"y": {"field": "r", "type": "quantitative"}}},
 {"data": {"name": "rax"}, "transform": [{"filter": "datum.p != 80"}], "mark": {"type": "text", "fontSize": 5.2, "align": "left", "baseline": "middle", "fill": "#b0b0b0"},
  "encoding": {"y": {"field": "p", "type": "quantitative"}, "text": {"field": "s"}}},
 {"data": {"name": "rax"}, "transform": [{"filter": "datum.p == 80"}], "mark": {"type": "text", "fontSize": 5.2, "align": "left", "baseline": "top", "fill": "#b0b0b0"},
  "encoding": {"y": {"field": "p", "type": "quantitative"}, "text": {"field": "s"}}},
 {"data": {"name": "hr"}, "mark": {"type": "text", "fontSize": 6, "align": "left", "baseline": "middle"},
  "encoding": {"y": {"field": "p", "type": "quantitative"}, "text": {"field": "s"},
   "fill": {"field": "k", "type": "nominal", "legend": null, "scale": {"domain": ["w","y"], "range": ["#d6d6d6","#e3d000"]}}}}
]
}
]
}
